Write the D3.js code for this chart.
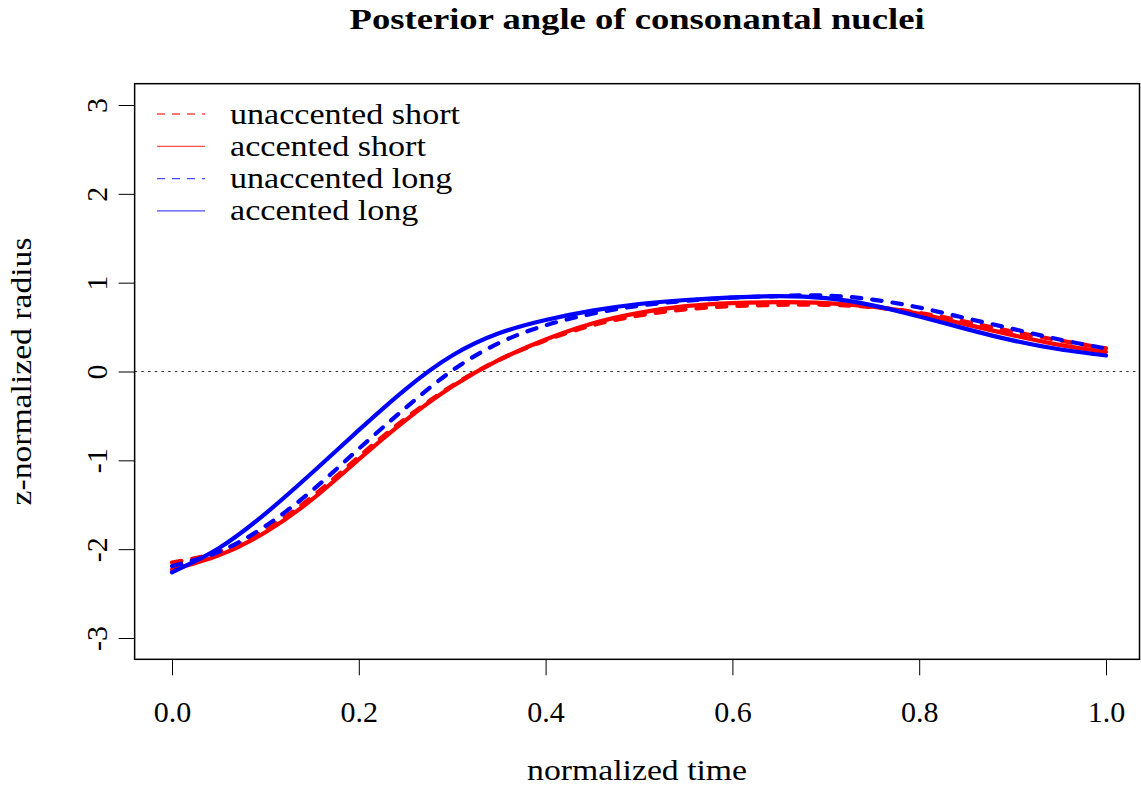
<!DOCTYPE html>
<html>
<head>
<meta charset="utf-8">
<script src="https://cdn.jsdelivr.net/npm/d3@7"></script>
<style>
  html, body { margin: 0; padding: 0; background: #fff; }
  text { font-family: "Liberation Serif", "Times New Roman", "DejaVu Serif", serif; fill: #000; }
</style>
</head>
<body>
<svg id="chart" width="1141" height="788"></svg>
<script>
// normalized time samples
const timePoints = [0, 0.05, 0.1, 0.15, 0.2, 0.25, 0.3, 0.35, 0.4, 0.45, 0.5,
                    0.55, 0.6, 0.65, 0.7, 0.75, 0.8, 0.85, 0.9, 0.95, 1.0];

// z-normalized radius per condition
const unaccentedShort = [-2.15, -2.03, -1.78, -1.41, -0.96, -0.53, -0.16, 0.13, 0.35, 0.52, 0.63,
                         0.70, 0.735, 0.75, 0.75, 0.725, 0.66, 0.56, 0.45, 0.35, 0.26];
const accentedShort   = [-2.23, -2.07, -1.81, -1.44, -0.99, -0.55, -0.17, 0.13, 0.36, 0.54, 0.66,
                         0.735, 0.77, 0.78, 0.77, 0.73, 0.65, 0.53, 0.41, 0.30, 0.22];
const unaccentedLong  = [-2.19, -2.03, -1.74, -1.34, -0.87, -0.41, 0.01, 0.32, 0.52, 0.65, 0.74,
                         0.795, 0.83, 0.85, 0.855, 0.81, 0.72, 0.60, 0.48, 0.36, 0.26];
const accentedLong    = [-2.26, -1.99, -1.60, -1.14, -0.66, -0.20, 0.18, 0.43, 0.58, 0.685, 0.76,
                         0.805, 0.835, 0.848, 0.825, 0.745, 0.62, 0.48, 0.35, 0.25, 0.18];

const xTicks = [0, 0.2, 0.4, 0.6, 0.8, 1.0];
const yTicks = [-3, -2, -1, 0, 1, 2, 3];

const seriesNames  = ["unaccented short", "accented short", "unaccented long", "accented long"];
const seriesValues = [unaccentedShort, accentedShort, unaccentedLong, accentedLong];
const seriesColors = ["#ff0000", "#ff0000", "#0000ff", "#0000ff"];
const seriesDashed = [true, false, true, false];

const W = 1141, H = 788;
const svg = d3.select("#chart");

const x = d3.scaleLinear().domain([0, 1]).range([172, 1106]);
const y = d3.scaleLinear().domain([-3, 3]).range([638, 105]);

// plot region extends 4% beyond the data range on each side
const boxL = x(-0.04), boxR = Math.min(x(1.04), W - 1.5);
const boxT = y(3.24), boxB = y(-3.24);

// horizontal reference at zero
svg.append("line")
  .attr("x1", boxL).attr("x2", boxR)
  .attr("y1", y(0)).attr("y2", y(0))
  .attr("stroke", "#333").attr("stroke-width", 1.2)
  .attr("stroke-dasharray", "2.5,4.2");

// curves
const line = d3.line()
  .x((d, i) => x(timePoints[i]))
  .y(d => y(d))
  .curve(d3.curveNatural);

[0, 1, 2, 3].forEach(k => {
  svg.append("path")
    .datum(seriesValues[k])
    .attr("d", line)
    .attr("fill", "none")
    .attr("stroke", seriesColors[k])
    .attr("stroke-width", 4.2)
    .attr("stroke-linecap", "round")
    .attr("stroke-linejoin", "round")
    .attr("stroke-dasharray", seriesDashed[k] ? "9.5,11" : null);
});

// box
svg.append("rect")
  .attr("x", boxL).attr("y", boxT)
  .attr("width", boxR - boxL).attr("height", boxB - boxT)
  .attr("fill", "none").attr("stroke", "#000").attr("stroke-width", 1.5);

// x axis
const xAxis = svg.append("g").attr("transform", `translate(0,${boxB})`)
  .call(d3.axisBottom(x).tickValues(xTicks).tickFormat(d3.format(".1f"))
    .tickSize(16).tickPadding(0));
xAxis.attr("font-family", null);
xAxis.select(".domain").remove();
xAxis.selectAll(".tick line").attr("stroke", "#000").attr("stroke-width", 1);
xAxis.selectAll(".tick text")
  .attr("y", 63).attr("dy", null)
  .style("font-size", "30px");

// y axis with rotated labels
const yAxis = svg.append("g").attr("transform", `translate(${boxL},0)`)
  .call(d3.axisLeft(y).tickValues(yTicks).tickFormat(d3.format("d"))
    .tickSize(16).tickPadding(0));
yAxis.attr("font-family", null);
yAxis.select(".domain").remove();
yAxis.selectAll(".tick line").attr("stroke", "#000").attr("stroke-width", 1);
yAxis.selectAll(".tick text")
  .attr("x", null).attr("dy", null)
  .attr("text-anchor", "middle")
  .attr("transform", "translate(-28,0) rotate(-90)")
  .style("font-size", "30px")
  .text(d => d < 0 ? "-" + Math.abs(d) : String(d));

// text helper: stretch horizontally to a given rendered width
function fitText(sel, width) {
  const w = sel.node().getComputedTextLength();
  if (w > 0) sel.attr("textLength", width).attr("lengthAdjust", "spacingAndGlyphs");
  return sel;
}

// title
const title = svg.append("text")
  .attr("x", (boxL + boxR) / 2).attr("y", 29)
  .attr("text-anchor", "middle")
  .style("font-size", "29px").style("font-weight", "bold")
  .text("Posterior angle of consonantal nuclei");
fitText(title, 575);

// axis titles
const xTitle = svg.append("text")
  .attr("x", (boxL + boxR) / 2).attr("y", 780)
  .attr("text-anchor", "middle")
  .style("font-size", "29px")
  .text("normalized time");
fitText(xTitle, 220);

const yTitle = svg.append("text")
  .attr("transform", `translate(31,${(boxT + boxB) / 2}) rotate(-90)`)
  .attr("text-anchor", "middle")
  .style("font-size", "29px")
  .text("z-normalized radius");
fitText(yTitle, 268);

// legend
const legend = svg.append("g");
const rowY0 = 114, rowGap = 32.3;
let stretch = null;
seriesNames.forEach((name, k) => {
  const cy = rowY0 + k * rowGap;
  legend.append("line")
    .attr("x1", 157).attr("x2", 205).attr("y1", cy).attr("y2", cy)
    .attr("stroke", seriesColors[k]).attr("stroke-opacity", 0.7)
    .attr("stroke-width", 1.3)
    .attr("stroke-dasharray", seriesDashed[k] ? "8,7" : null);
  const t = legend.append("text")
    .attr("x", 230).attr("y", cy + 9.5)
    .style("font-size", "29px")
    .text(name);
  const w = t.node().getComputedTextLength();
  if (stretch === null) stretch = 230 / w;
  t.attr("textLength", w * stretch).attr("lengthAdjust", "spacingAndGlyphs");
});
</script>
</body>
</html>
